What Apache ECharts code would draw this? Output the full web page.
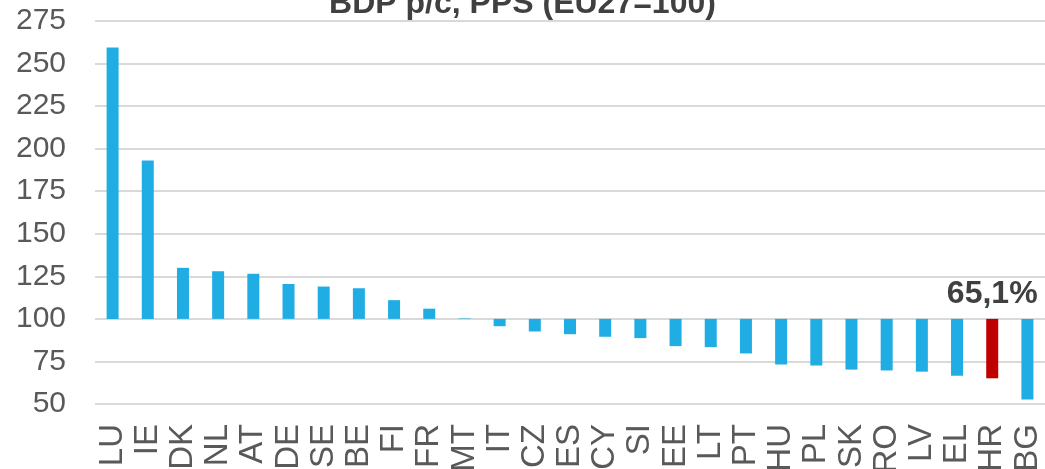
<!DOCTYPE html>
<html>
<head>
<meta charset="utf-8">
<script src="https://cdn.jsdelivr.net/npm/echarts@6/dist/echarts.min.js"></script>
<style>html,body{margin:0;padding:0;background:#fff;}#c{width:1045px;height:469px;}</style>
</head>
<body>
<div id="c"></div>
<script>
const categories = ['LU','IE','DK','NL','AT','DE','SE','BE','FI','FR','MT','IT','CZ','ES','CY','SI','EE','LT','PT','HU','PL','SK','RO','LV','EL','HR','BG'];
const values = [259.5,193,130,128,126.5,120.5,119,118,111,106,100.3,95.7,92.6,91,89.5,88.7,84,83.4,79.7,73.2,72.6,70.2,69.7,69,66.6,65.1,52.7];
const highlight = 'HR';
const highlightLabel = '65,1%';
const yTicks = {min: 50, max: 275, interval: 25};
const baseline = 100;
const titleText = 'BDP p/c, PPS (EU27=100)';

const FONT = '"Liberation Sans", Arial, sans-serif';
const base = values.map(v => Math.min(v, baseline));
const diff = values.map((v, i) => ({
  value: Math.abs(v - baseline),
  itemStyle: {color: categories[i] === highlight ? '#C00000' : '#1FADE4'},
  label: categories[i] === highlight ? {
    show: true, position: 'top', distance: 9, formatter: highlightLabel,
    fontFamily: FONT, fontSize: 32, fontWeight: 'bold', color: '#404040'
  } : {show: false}
}));

const chart = echarts.init(document.getElementById('c'), null, {renderer: 'canvas'});
chart.setOption({
  animation: false,
  title: {
    text: titleText, left: 'center', top: -17,
    textStyle: {fontFamily: FONT, fontSize: 32, fontWeight: 'bold', color: '#404040'}
  },
  grid: {left: 95, right: 0, top: 21, bottom: 65, containLabel: false, outerBoundsMode: 'none'},
  xAxis: {
    type: 'category', data: categories,
    axisLine: {show: false}, axisTick: {show: false},
    axisLabel: {rotate: 90, interval: 0, margin: 20, fontFamily: FONT, fontSize: 33, color: '#595959'}
  },
  yAxis: {
    type: 'value', min: yTicks.min, max: yTicks.max, interval: yTicks.interval,
    axisLine: {show: false}, axisTick: {show: false},
    axisLabel: {margin: 29, fontFamily: FONT, fontSize: 30, color: '#595959'},
    splitLine: {lineStyle: {color: '#d9d9d9', width: 2}}
  },
  series: [
    {type: 'bar', stack: 's', data: base, barWidth: 12, itemStyle: {color: 'transparent'}, silent: true},
    {type: 'bar', stack: 's', data: diff, barWidth: 12}
  ]
});
</script>
</body>
</html>
